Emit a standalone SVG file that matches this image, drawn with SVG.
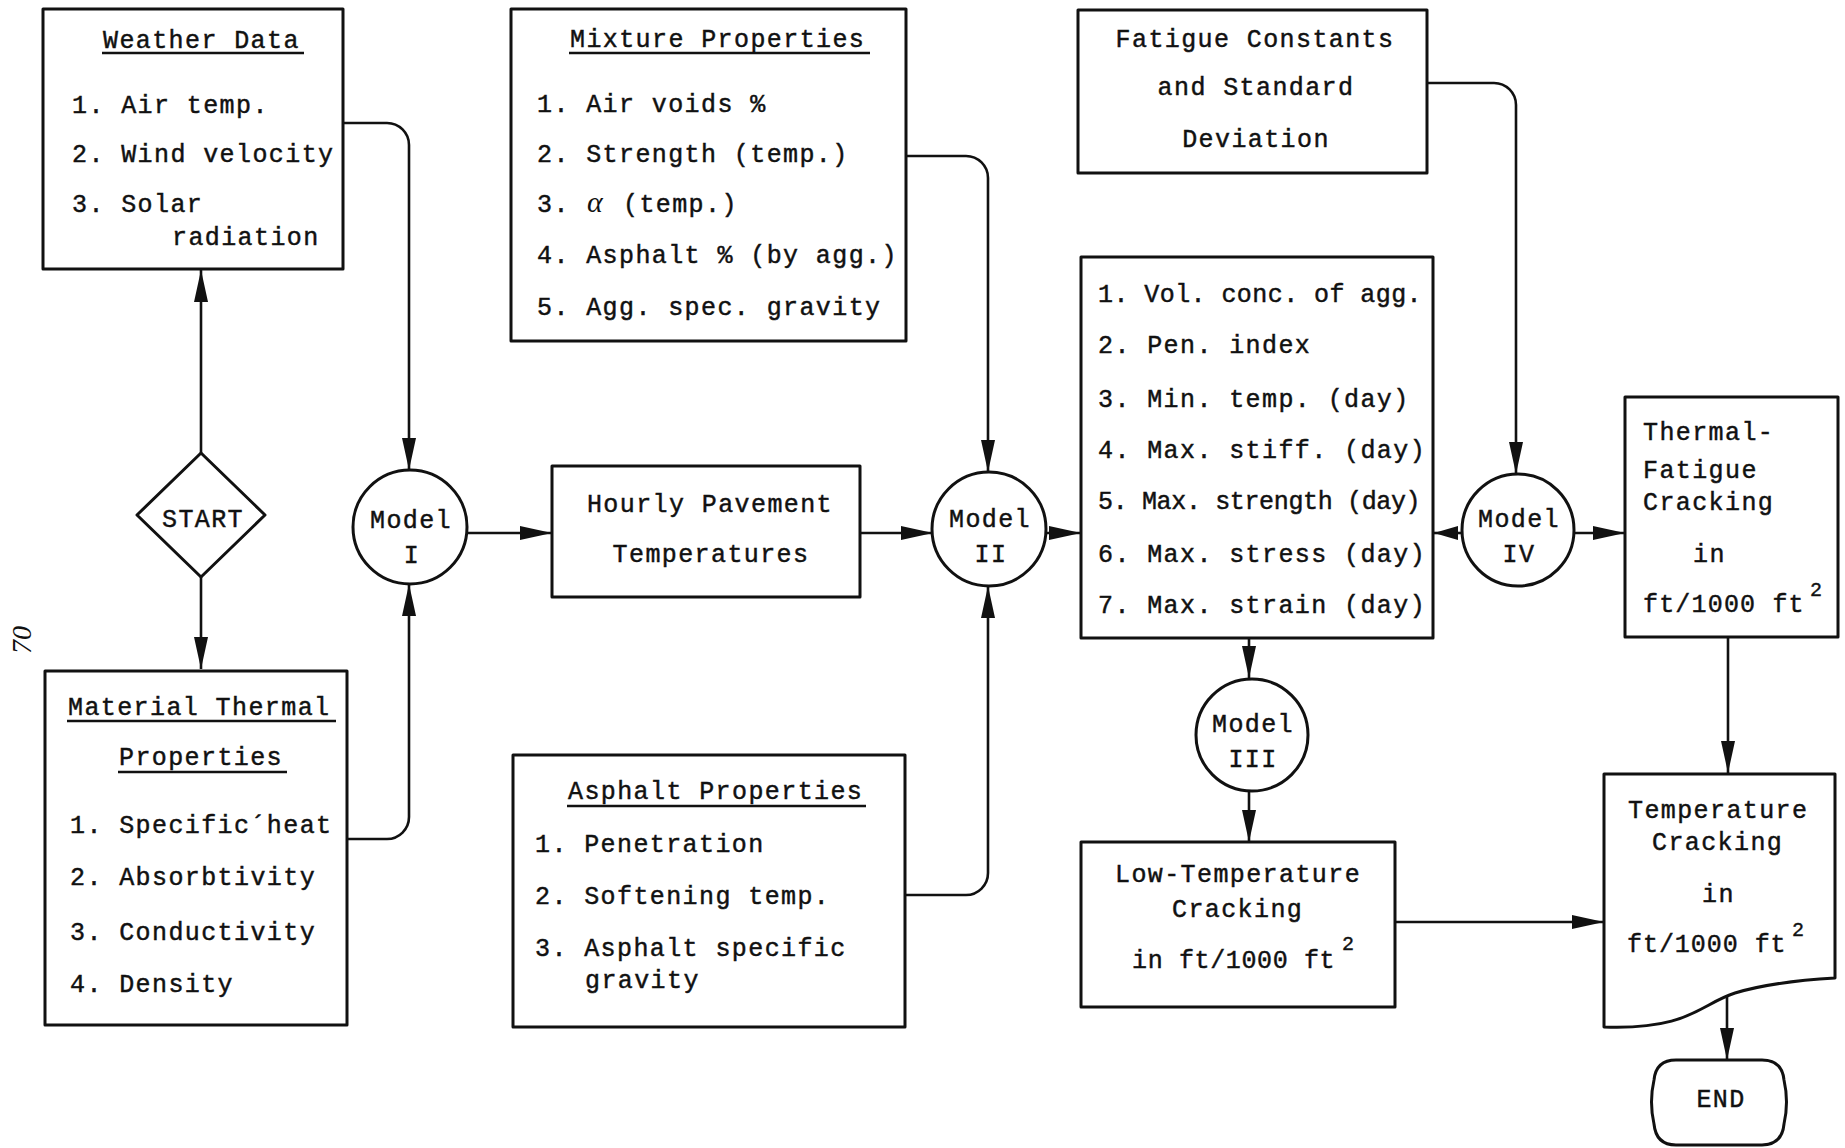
<svg xmlns="http://www.w3.org/2000/svg" width="1845" height="1148" viewBox="0 0 1845 1148">
  <defs>
    <style>
      .box { fill: none; stroke: #111; stroke-width: 3; stroke-linejoin: round; }
      .wire { fill: none; stroke: #111; stroke-width: 2.6; }
      .ul { stroke: #111; stroke-width: 2.6; }
      .t { font-family: "Liberation Mono", "DejaVu Sans Mono", monospace; font-size: 25px; letter-spacing: 1.4px; fill: #111; stroke: #111; stroke-width: 0.45; }
      .c { text-anchor: middle; }
      .sup { font-family: "Liberation Mono", "DejaVu Sans Mono", monospace; font-size: 20px; fill: #111; stroke: #111; stroke-width: 0.4; }
      .greek { font-family: "Liberation Serif", "DejaVu Serif", serif; font-style: italic; font-size: 30px; fill: #111; }
      .page { font-family: "Liberation Serif", "DejaVu Serif", serif; font-style: italic; font-size: 28px; fill: #111; }
    </style>
    <marker id="arr" markerUnits="userSpaceOnUse" markerWidth="34" markerHeight="14" refX="32" refY="7" orient="auto">
      <path d="M0,0 L32,7 L0,14 Z" fill="#111"/>
    </marker>
    <marker id="arrs" markerUnits="userSpaceOnUse" markerWidth="26" markerHeight="14" refX="24" refY="7" orient="auto">
      <path d="M0,0 L24,7 L0,14 Z" fill="#111"/>
    </marker>
  </defs>

  <rect x="0" y="0" width="1845" height="1148" fill="#fff"/>

  <!-- page number, printed sideways -->
  <text class="page c" transform="translate(31,640) rotate(-90)">70</text>

  <!-- connectors -->
  <g id="connectors">
    <path class="wire" d="M201,453 V270" marker-end="url(#arr)"/>
    <path class="wire" d="M201,577 V669" marker-end="url(#arr)"/>
    <path class="wire" d="M343,123 H387 A22,22 0 0 1 409,145 V470" marker-end="url(#arr)"/>
    <path class="wire" d="M347,839 H387 A22,22 0 0 0 409,817 V584" marker-end="url(#arr)"/>
    <path class="wire" d="M467,533 H552" marker-end="url(#arr)"/>
    <path class="wire" d="M860,533 H933" marker-end="url(#arr)"/>
    <path class="wire" d="M906,156 H966 A22,22 0 0 1 988,178 V472" marker-end="url(#arr)"/>
    <path class="wire" d="M905,895 H966 A22,22 0 0 0 988,873 V586" marker-end="url(#arr)"/>
    <path class="wire" d="M1046,533 H1081" marker-end="url(#arr)"/>
    <path class="wire" d="M1462,533 H1434" marker-end="url(#arrs)"/>
    <path class="wire" d="M1427,83 H1494 A22,22 0 0 1 1516,105 V474" marker-end="url(#arr)"/>
    <path class="wire" d="M1574,533 H1625" marker-end="url(#arr)"/>
    <path class="wire" d="M1728,637 V773" marker-end="url(#arr)"/>
    <path class="wire" d="M1249,638 V678" marker-end="url(#arr)"/>
    <path class="wire" d="M1249,791 V842" marker-end="url(#arr)"/>
    <path class="wire" d="M1395,922 H1604" marker-end="url(#arr)"/>
    <path class="wire" d="M1727,995 V1060" marker-end="url(#arr)"/>
  </g>

  <!-- Weather Data -->
  <g id="weather-data">
    <rect class="box" x="43" y="9" width="300" height="260"/>
    <text class="t" x="103" y="48">Weather Data</text>
    <line class="ul" x1="102" y1="53" x2="304" y2="53"/>
    <text class="t" x="72" y="113">1. Air temp.</text>
    <text class="t" x="72" y="162">2. Wind velocity</text>
    <text class="t" x="72" y="212">3. Solar</text>
    <text class="t" x="172" y="245">radiation</text>
  </g>

  <!-- START -->
  <g id="start">
    <polygon class="box" points="201,453 265,515 201,577 137,515"/>
    <text class="t c" x="203" y="527">START</text>
  </g>

  <!-- Material Thermal Properties -->
  <g id="material-thermal">
    <rect class="box" x="45" y="671" width="302" height="354"/>
    <text class="t" x="68" y="715">Material Thermal</text>
    <line class="ul" x1="67" y1="721" x2="336" y2="721"/>
    <text class="t" x="119" y="765">Properties</text>
    <line class="ul" x1="118" y1="772" x2="287" y2="772"/>
    <text class="t" x="70" y="833">1. Specific´heat</text>
    <text class="t" x="70" y="885">2. Absorbtivity</text>
    <text class="t" x="70" y="940">3. Conductivity</text>
    <text class="t" x="70" y="992">4. Density</text>
  </g>

  <!-- Model I -->
  <g id="model-1">
    <circle class="box" cx="410" cy="527" r="57"/>
    <text class="t c" x="411" y="528">Model</text>
    <text class="t c" x="412" y="563">I</text>
  </g>

  <!-- Mixture Properties -->
  <g id="mixture-properties">
    <rect class="box" x="511" y="9" width="395" height="332"/>
    <text class="t" x="570" y="47">Mixture Properties</text>
    <line class="ul" x1="569" y1="53" x2="870" y2="53"/>
    <text class="t" x="537" y="112">1. Air voids %</text>
    <text class="t" x="537" y="162">2. Strength (temp.)</text>
    <text class="t" x="537" y="212">3.</text>
    <text class="greek" x="587" y="212">α</text>
    <text class="t" x="623" y="212">(temp.)</text>
    <text class="t" x="537" y="263">4. Asphalt % (by agg.)</text>
    <text class="t" x="537" y="315">5. Agg. spec. gravity</text>
  </g>

  <!-- Hourly Pavement Temperatures -->
  <g id="hourly-temps">
    <rect class="box" x="552" y="466" width="308" height="131"/>
    <text class="t c" x="710" y="512">Hourly Pavement</text>
    <text class="t c" x="711" y="562">Temperatures</text>
  </g>

  <!-- Asphalt Properties -->
  <g id="asphalt-properties">
    <rect class="box" x="513" y="755" width="392" height="272"/>
    <text class="t" x="568" y="799">Asphalt Properties</text>
    <line class="ul" x1="567" y1="806" x2="866" y2="806"/>
    <text class="t" x="535" y="852">1. Penetration</text>
    <text class="t" x="535" y="904">2. Softening temp.</text>
    <text class="t" x="535" y="956">3. Asphalt specific</text>
    <text class="t" x="585" y="988">gravity</text>
  </g>

  <!-- Model II -->
  <g id="model-2">
    <circle class="box" cx="989" cy="529" r="57"/>
    <text class="t c" x="990" y="527">Model</text>
    <text class="t c" x="991" y="562">II</text>
  </g>

  <!-- Fatigue Constants and Standard Deviation -->
  <g id="fatigue-constants">
    <rect class="box" x="1078" y="10" width="349" height="163"/>
    <text class="t c" x="1255" y="47">Fatigue Constants</text>
    <text class="t c" x="1256" y="95">and Standard</text>
    <text class="t c" x="1256" y="147">Deviation</text>
  </g>

  <!-- Model II outputs -->
  <g id="daily-results">
    <rect class="box" x="1081" y="257" width="352" height="381"/>
    <text class="t" x="1098" y="302" textLength="325" lengthAdjust="spacing">1. Vol. conc. of agg.</text>
    <text class="t" x="1098" y="353">2. Pen. index</text>
    <text class="t" x="1098" y="407">3. Min. temp. (day)</text>
    <text class="t" x="1098" y="458">4. Max. stiff. (day)</text>
    <text class="t" x="1098" y="509" textLength="324" lengthAdjust="spacing">5. Max. strength (day)</text>
    <text class="t" x="1098" y="562">6. Max. stress (day)</text>
    <text class="t" x="1098" y="613">7. Max. strain (day)</text>
  </g>

  <!-- Model IV -->
  <g id="model-4">
    <circle class="box" cx="1518" cy="530" r="56"/>
    <text class="t c" x="1519" y="527">Model</text>
    <text class="t c" x="1519" y="562">IV</text>
  </g>

  <!-- Thermal-Fatigue Cracking -->
  <g id="thermal-fatigue">
    <rect class="box" x="1625" y="397" width="213" height="240"/>
    <text class="t" x="1643" y="440">Thermal-</text>
    <text class="t" x="1643" y="478">Fatigue</text>
    <text class="t" x="1643" y="510">Cracking</text>
    <text class="t" x="1693" y="562">in</text>
    <text class="t" x="1643" y="612" textLength="162" lengthAdjust="spacing">ft/1000 ft</text>
    <text class="sup" x="1810" y="596">2</text>
  </g>

  <!-- Model III -->
  <g id="model-3">
    <circle class="box" cx="1252" cy="735" r="56"/>
    <text class="t c" x="1253" y="732">Model</text>
    <text class="t c" x="1253" y="767">III</text>
  </g>

  <!-- Low-Temperature Cracking -->
  <g id="low-temp-cracking">
    <rect class="box" x="1081" y="842" width="314" height="165"/>
    <text class="t" x="1115" y="882">Low-Temperature</text>
    <text class="t" x="1172" y="917">Cracking</text>
    <text class="t" x="1132" y="968" textLength="204" lengthAdjust="spacing">in ft/1000 ft</text>
    <text class="sup" x="1342" y="950">2</text>
  </g>

  <!-- Temperature Cracking (document symbol) -->
  <g id="temperature-cracking">
    <path class="box" d="M1604,774 H1835 V978 C1800,980 1765,984 1735,993 C1700,1004 1690,1030 1604,1027 Z"/>
    <text class="t" x="1628" y="818">Temperature</text>
    <text class="t" x="1652" y="850">Cracking</text>
    <text class="t" x="1702" y="902">in</text>
    <text class="t" x="1627" y="952" textLength="160" lengthAdjust="spacing">ft/1000 ft</text>
    <text class="sup" x="1792" y="936">2</text>
  </g>

  <!-- END terminal -->
  <g id="end">
    <path class="box" d="M1676,1060 H1762 Q1782,1060 1784,1080 Q1789,1102 1784,1124 Q1782,1145 1762,1145 H1676 Q1656,1145 1654,1124 Q1649,1102 1654,1080 Q1656,1060 1676,1060 Z"/>
    <text class="t c" x="1721" y="1107">END</text>
  </g>
</svg>
